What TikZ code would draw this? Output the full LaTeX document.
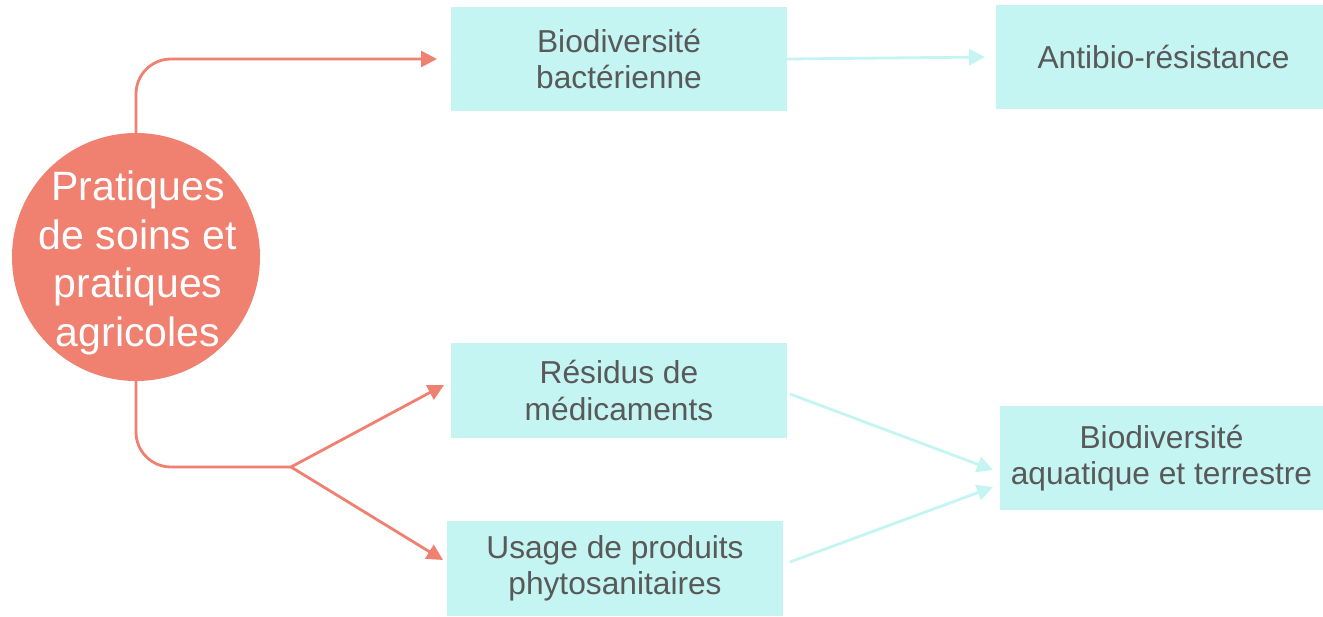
\documentclass[tikz,border=0pt]{standalone}
\usepackage{fontspec}
\setmainfont{Liberation Sans}
\usetikzlibrary{arrows.meta}
\definecolor{sal}{RGB}{240,128,112}
\definecolor{cy}{RGB}{196,245,242}
\definecolor{txt}{RGB}{89,89,89}
\begin{document}
\begin{tikzpicture}[x=1pt,y=-1pt,
  box/.style={fill=cy, draw=none, inner sep=0pt, align=center, text=txt,
    font=\fontsize{31.7}{36.5}\selectfont},
  salline/.style={draw=sal, line width=2.8pt},
  cyline/.style={draw=cy, line width=2.8pt},
  tip/.style={-{Triangle[length=16pt,width=16pt]}}]
\useasboundingbox (0,0) rectangle (1323,616);
% circle
\node[circle, fill=sal, minimum size=248pt, inner sep=0pt] (c) at (136,257) {};
\node[inner sep=0pt, text=white, align=center,
  font=\fontsize{41}{48.5}\selectfont] (ct) at (138,263) {Pratiques\\de soins et\\pratiques\\agricoles};
% boxes
\node[box, minimum width=327pt, minimum height=104pt] (b2) at (1159.5,57) {\hspace*{8pt}Antibio-résistance};
\node[box, minimum width=336pt, minimum height=104pt] (b1) at (619,59) {Biodiversité\\bactérienne};
\node[box, minimum width=336pt, minimum height=95pt] (b3) at (619,390.5) {Résidus de\\médicaments};
\node[box, minimum width=323pt, minimum height=104pt] (b4) at (1161.5,458) {Biodiversité\\aquatique et terrestre};
\node[box, minimum width=336pt, minimum height=95pt] (b5) at (615,568.5) {Usage de produits\\phytosanitaires};
% coordinates
\coordinate (t1) at (437,59);
\coordinate (j) at (291,467);
\coordinate (t3) at (444,385);
\coordinate (t5) at (443,560);
\coordinate (t2) at (985,57);
\coordinate (s3) at (790,394);
\coordinate (e3) at (993,470);
\coordinate (s5) at (790,562);
\coordinate (e5) at (993,487);
% salmon connectors
\draw[salline, rounded corners=35pt, tip] (c.north) |- (t1);
\draw[salline, rounded corners=35pt] (c.south) |- (j);
\draw[salline, tip] (j) -- (t3);
\draw[salline, tip] (j) -- (t5);
% cyan connectors
\draw[cyline, tip] (b1.east) -- (t2);
\draw[cyline, tip] (s3) -- (e3);
\draw[cyline, tip] (s5) -- (e5);
\end{tikzpicture}
\end{document}
